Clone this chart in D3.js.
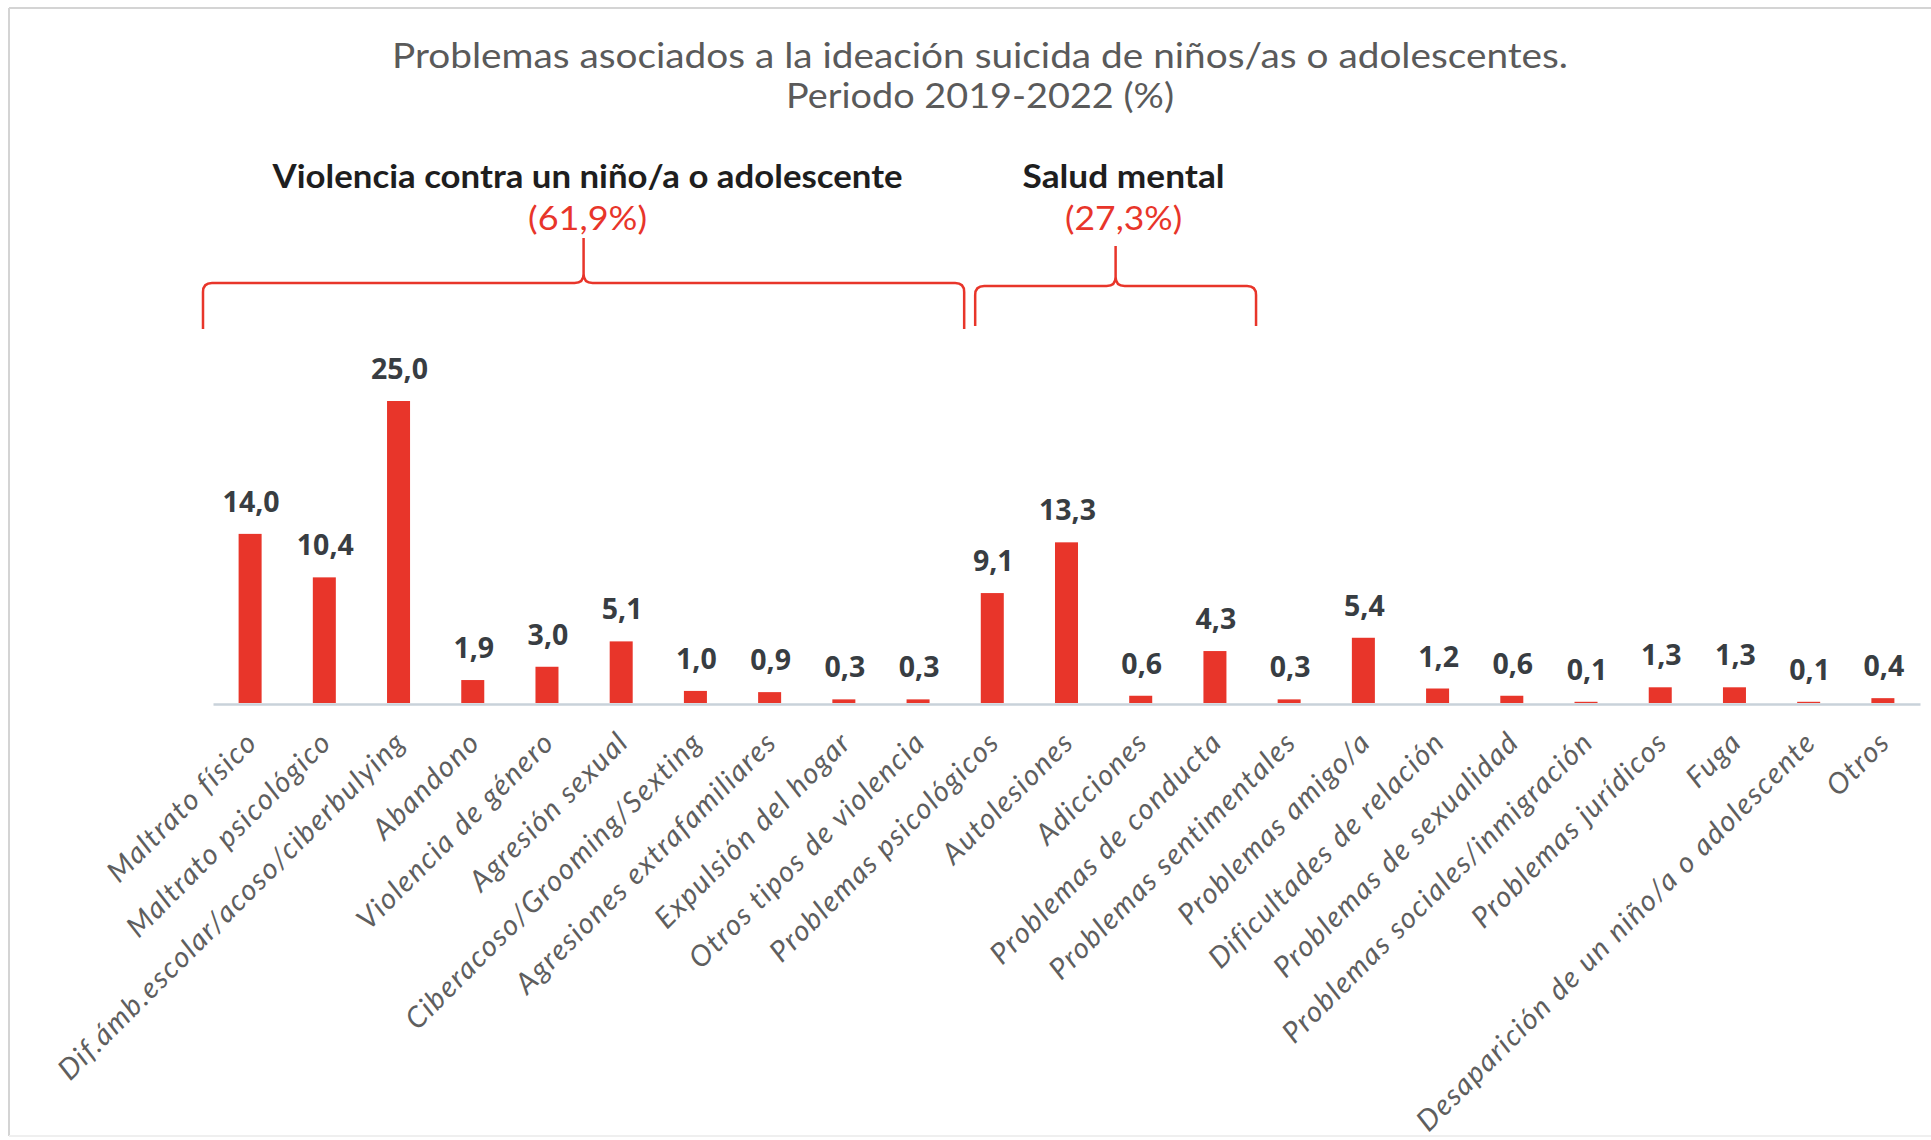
<!DOCTYPE html>
<html>
<head>
<meta charset="utf-8">
<script src="https://cdn.jsdelivr.net/npm/d3@7"></script>
<style>
  html, body { margin: 0; padding: 0; background: #fff; }
  svg { display: block; }
</style>
</head>
<body>
<svg id="chart" width="1931" height="1140"></svg>
<script>
const categories = [
  "Maltrato físico", "Maltrato psicológico", "Dif.ámb.escolar/acoso/ciberbulying",
  "Abandono", "Violencia de género", "Agresión sexual", "Ciberacoso/Grooming/Sexting",
  "Agresiones extrafamiliares", "Expulsión del hogar", "Otros tipos de violencia",
  "Problemas psicológicos", "Autolesiones", "Adicciones", "Problemas de conducta",
  "Problemas sentimentales", "Problemas amigo/a", "Dificultades de relación",
  "Problemas de sexualidad", "Problemas sociales/inmigración", "Problemas jurídicos",
  "Fuga", "Desaparición de un niño/a o adolescente", "Otros"
];
const values = [14.0, 10.4, 25.0, 1.9, 3.0, 5.1, 1.0, 0.9, 0.3, 0.3,
                9.1, 13.3, 0.6, 4.3, 0.3, 5.4, 1.2, 0.6, 0.1, 1.3, 1.3, 0.1, 0.4];
const groupNames = ["Violencia contra un niño/a o adolescente", "Salud mental"];
const groupTotals = ["(61,9%)", "(27,3%)"];
const groupFirst = ["Maltrato físico", "Problemas psicológicos"];
const groupLast = ["Otros tipos de violencia", "Problemas de conducta"];
const titleLines = ["Problemas asociados a la ideación suicida de niños/as o adolescentes.",
                    "Periodo 2019-2022 (%)"];

const svg = d3.select("#chart");
const W = 1931, H = 1140;
const red = "#e8352a";

// frame
svg.append("line").attr("x1", 9).attr("x2", W).attr("y1", 8).attr("y2", 8)
  .attr("stroke", "#d4d4d4").attr("stroke-width", 2);
svg.append("line").attr("x1", 9).attr("x2", 9).attr("y1", 8).attr("y2", 1136)
  .attr("stroke", "#d4d4d4").attr("stroke-width", 2);
svg.append("line").attr("x1", 9).attr("x2", W).attr("y1", 1136).attr("y2", 1136)
  .attr("stroke", "#efefef").attr("stroke-width", 2);

const x = d3.scaleBand().domain(categories).range([213, 1920]).paddingInner(0.69).paddingOuter(0.345);
const y = d3.scaleLinear().domain([0, 25]).range([703, 401]);

// title
const titleG = svg.append("g").attr("font-family", "Lato, 'Noto Sans', sans-serif").attr("fill", "#5a5a5a");
titleG.append("text").attr("x", 980).attr("y", 68).attr("text-anchor", "middle")
  .attr("font-size", 35).attr("textLength", 1176).attr("lengthAdjust", "spacingAndGlyphs")
  .text(titleLines[0]);
titleG.append("text").attr("x", 980).attr("y", 108).attr("text-anchor", "middle")
  .attr("font-size", 35).attr("textLength", 388).attr("lengthAdjust", "spacingAndGlyphs")
  .text(titleLines[1]);

// bars
svg.append("g").selectAll("rect").data(values).join("rect")
  .attr("x", (d, i) => x(categories[i]))
  .attr("y", d => y(d))
  .attr("width", x.bandwidth())
  .attr("height", d => y(0) - y(d))
  .attr("fill", red);

// value labels
svg.append("g").selectAll("text").data(values).join("text")
  .attr("x", (d, i) => x(categories[i]) + x.bandwidth() / 2 + 1)
  .attr("y", d => y(d) - 22)
  .attr("text-anchor", "middle")
  .attr("font-family", "'Open Sans', 'Noto Sans', sans-serif")
  .attr("font-weight", 700)
  .attr("font-size", 28.5)
  .attr("fill", "#383d42")
  .text(d => d.toFixed(1).replace(".", ","));

// axis
const axis = svg.append("g").attr("transform", `translate(0,${y(0) + 1})`)
  .call(d3.axisBottom(x).tickSize(0).tickSizeOuter(0));
axis.select(".domain").attr("stroke", "#c9d2da").attr("stroke-width", 2.5);
axis.selectAll(".tick text")
  .attr("font-family", "Lato, 'Open Sans', sans-serif")
  .attr("font-style", "italic")
  .attr("font-size", 29)
  .attr("letter-spacing", 1.6)
  .attr("fill", "#5e5e5e")
  .attr("text-anchor", "end")
  .attr("dy", null)
  .attr("y", 0)
  .attr("transform", "translate(9,40) rotate(-45)");

// braces
const step = x.step();
const groups = [
  { x0: x(groupFirst[0]) - (step - x.bandwidth()) / 2 - 10,
    x1: x(groupLast[0]) + x.bandwidth() + (step - x.bandwidth()) / 2 + 9,
    yh: 283, yb: 329, yt: 238, labelDx: 4, nameLen: 630, totLen: 119 },
  { x0: x(groupFirst[1]) - (step - x.bandwidth()) / 2 + 20,
    x1: x(groupLast[1]) + x.bandwidth() + (step - x.bandwidth()) / 2 + 4,
    yh: 286, yb: 326, yt: 246, labelDx: 8, nameLen: 202, totLen: 117 }
];
groups.forEach((g, i) => {
  const xm = (g.x0 + g.x1) / 2, r = 9;
  const p = d3.path();
  p.moveTo(g.x0, g.yb);
  p.lineTo(g.x0, g.yh + r);
  p.quadraticCurveTo(g.x0, g.yh, g.x0 + r, g.yh);
  p.lineTo(xm - r, g.yh);
  p.quadraticCurveTo(xm, g.yh, xm, g.yh - r);
  p.lineTo(xm, g.yt);
  p.moveTo(xm, g.yh - r);
  p.quadraticCurveTo(xm, g.yh, xm + r, g.yh);
  p.lineTo(g.x1 - r, g.yh);
  p.quadraticCurveTo(g.x1, g.yh, g.x1, g.yh + r);
  p.lineTo(g.x1, g.yb);
  svg.append("path").attr("d", p.toString()).attr("fill", "none")
    .attr("stroke", red).attr("stroke-width", 2.5).attr("stroke-linejoin", "round");

  svg.append("text").attr("x", xm + g.labelDx).attr("y", 188).attr("text-anchor", "middle")
    .attr("font-family", "Lato, 'Noto Sans', sans-serif").attr("font-weight", 700)
    .attr("font-size", 32).attr("fill", "#1e1e1e")
    .attr("textLength", g.nameLen).attr("lengthAdjust", "spacingAndGlyphs")
    .text(groupNames[i]);
  svg.append("text").attr("x", xm + g.labelDx).attr("y", 230).attr("text-anchor", "middle")
    .attr("font-family", "Lato, 'Noto Sans', sans-serif")
    .attr("font-size", 33).attr("fill", red)
    .attr("textLength", g.totLen).attr("lengthAdjust", "spacingAndGlyphs")
    .text(groupTotals[i]);
});
</script>
</body>
</html>
